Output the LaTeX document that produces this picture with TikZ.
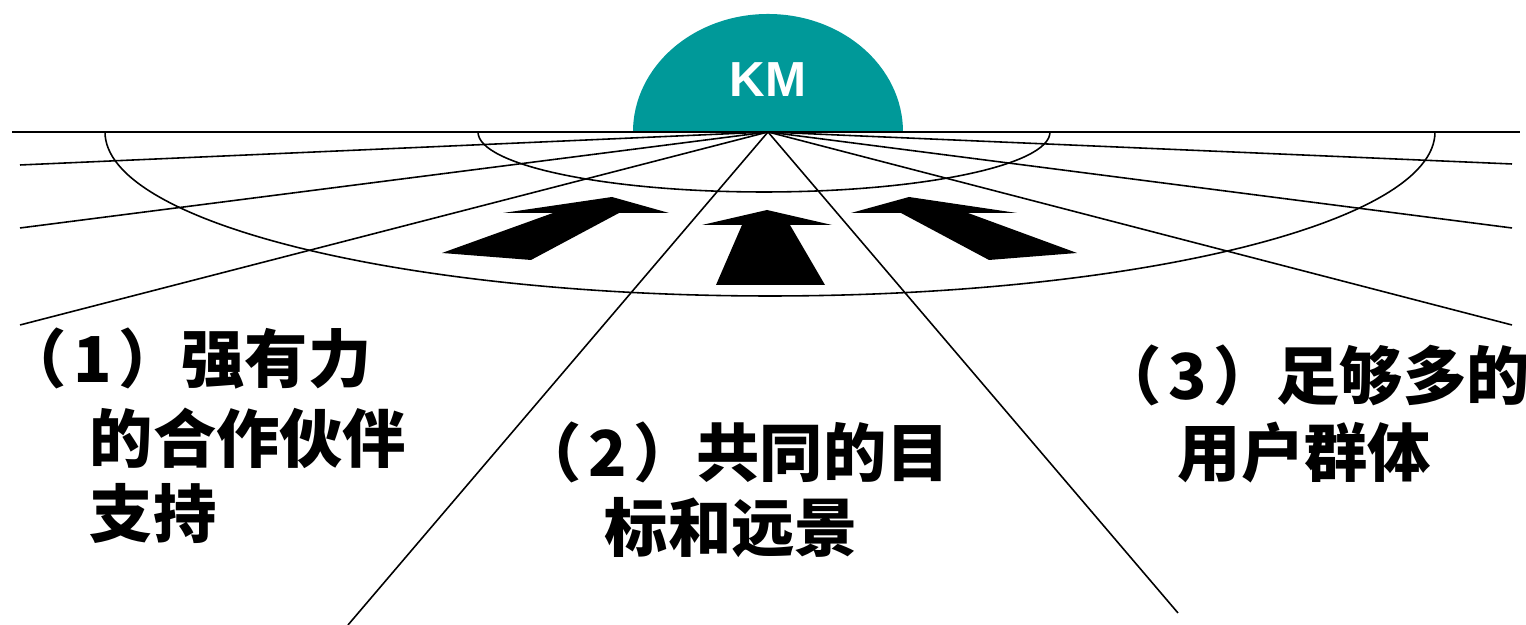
\documentclass[tikz,border=0pt]{standalone}
\usepackage{fontspec}
\newfontfamily\cjk{Noto Sans CJK SC}
\newfontfamily\kmfont{Liberation Sans}
\definecolor{kmteal}{RGB}{0,153,153}
\tikzset{
  cnline/.style={font=\cjk\bfseries\fontsize{18}{22}\selectfont, anchor=base west, inner sep=0pt},
  fan/.style={line width=.45pt},
}
\newcommand\numpar[1]{（\hspace{.1em}#1\hspace{.1em}）}
\begin{document}
\begin{tikzpicture}[x=.01cm,y=.01cm]
\useasboundingbox (0,0) rectangle (1526,625);
% dome
\fill[kmteal] (633,493) arc[start angle=180,end angle=0,x radius=135,y radius=118] -- cycle;
\node[font=\kmfont\bfseries\fontsize{14}{16}\selectfont, text=white] (km) at (768,545) {KM};
% ground, rings and fan
\coordinate (O) at (768,493);
\draw[fan] (12,493) coordinate (gl) -- (1520,493) coordinate (gr);
\draw[fan] (105,493) arc[start angle=180,end angle=360,x radius=665,y radius=164];
\draw[fan] (478,493) arc[start angle=180,end angle=360,x radius=286,y radius=60];
\path (20,460) coordinate (a1) (20,397) coordinate (a2) (20,300) coordinate (a3) (348,0) coordinate (a4)
 (1178,12) coordinate (a5) (1512,300) coordinate (a6) (1512,397) coordinate (a7) (1512,461) coordinate (a8);
\foreach \i in {1,...,8} \draw[fan] (O) -- (a\i);
% arrows
\fill (612,428) -- (669,412) -- (619,412) -- (531,365) -- (442,372) -- (553,412) -- (503,412) -- cycle;
\fill (767,415) -- (832,400) -- (790,400) -- (825,340) -- (716,340) -- (742,400) -- (702,400) -- cycle;
\fill (909,428) -- (1017,412) -- (968,412) -- (1077,372) -- (989,365) -- (901,412) -- (851,412) -- cycle;
% labels
\node[cnline] (p1a) at (3,242) {\numpar{1}强有力};
\node[cnline] (p1b) at (89,162) {的合作伙伴};
\node[cnline] (p1c) at (89,87) {支持};
\node[cnline] (p2a) at (518,148) {\numpar{2}共同的目};
\node[cnline] (p2b) at (604,73) {标和远景};
\node[cnline] (p3a) at (1098,225) {\numpar{3}足够多的};
\node[cnline] (p3b) at (1177,148) {用户群体};
\end{tikzpicture}
\end{document}
